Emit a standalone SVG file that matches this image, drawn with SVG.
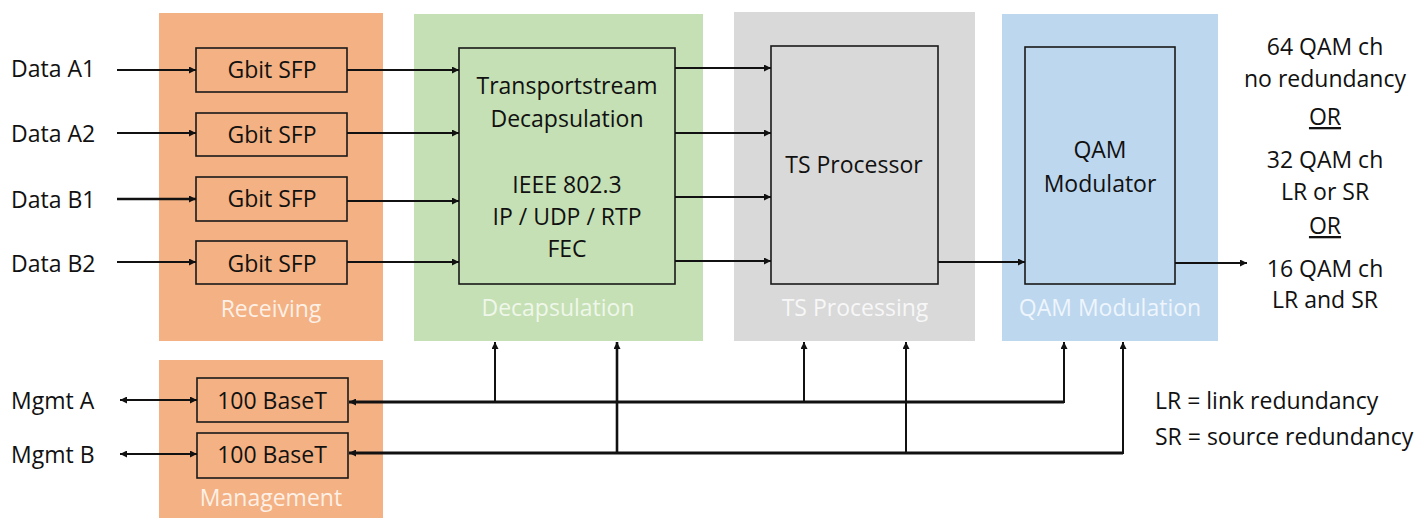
<svg xmlns="http://www.w3.org/2000/svg" width="1420" height="518" viewBox="0 0 1420 518">
<defs>
<marker id="ah" viewBox="0 0 10 10" refX="10" refY="5" markerWidth="9" markerHeight="7" markerUnits="userSpaceOnUse" orient="auto-start-reverse">
<path d="M0,0 L10,5 L0,10 z" fill="#111"/>
</marker>
<style>
text{font-family:"Open Sans","Noto Sans","Liberation Sans",sans-serif;font-size:23px;fill:#111;text-anchor:middle}
.lbl{text-anchor:start}
.box{stroke:#1a1a1a;stroke-width:1.6}
.plbl{font-size:23px}
.c{fill:none;stroke:#111;stroke-width:2}
.bus{fill:none;stroke:#111;stroke-width:3}
</style>
</defs>
<rect width="1420" height="518" fill="#fff"/>

<g id="receiving">
<rect x="159" y="13" width="224" height="328" fill="#f4b183"/>
<text x="271" y="317" class="plbl" style="fill:#fdf0e6">Receiving</text>
</g>
<g id="management">
<rect x="159" y="360" width="224" height="158" fill="#f4b183"/>
<text x="271" y="506" class="plbl" style="fill:#fdf0e6">Management</text>
</g>
<g id="decapsulation">
<rect x="414" y="14" width="289" height="327" fill="#c5e0b4"/>
<text x="558" y="316" class="plbl" style="fill:#eff7ea">Decapsulation</text>
</g>
<g id="ts-processing">
<rect x="734" y="12" width="241" height="329" fill="#d9d9d9"/>
<text x="855" y="316" class="plbl" style="fill:#f7f7f7">TS Processing</text>
</g>
<g id="qam-modulation">
<rect x="1002" y="14" width="216" height="327" fill="#bdd7ee"/>
<text x="1110" y="316" class="plbl" style="fill:#eef5fc">QAM Modulation</text>
</g>

<g id="sfp1"><rect class="box" x="196" y="48" width="151" height="44" fill="#f4b183"/><text x="272" y="78">Gbit SFP</text></g>
<g id="sfp2"><rect class="box" x="196" y="113" width="151" height="43" fill="#f4b183"/><text x="272" y="143">Gbit SFP</text></g>
<g id="sfp3"><rect class="box" x="196" y="177" width="151" height="44" fill="#f4b183"/><text x="272" y="207">Gbit SFP</text></g>
<g id="sfp4"><rect class="box" x="196" y="241" width="151" height="43" fill="#f4b183"/><text x="272" y="272">Gbit SFP</text></g>

<g id="baset1"><rect class="box" x="197" y="378" width="151" height="44" fill="#f4b183"/><text x="272" y="409">100 BaseT</text></g>
<g id="baset2"><rect class="box" x="197" y="433" width="151" height="45" fill="#f4b183"/><text x="272" y="463">100 BaseT</text></g>

<g id="ts-decap">
<rect class="box" x="459" y="48" width="216" height="236" fill="#c5e0b4"/>
<text x="567" y="94">Transportstream</text>
<text x="567" y="127">Decapsulation</text>
<text x="567" y="193">IEEE 802.3</text>
<text x="567" y="225">IP / UDP / RTP</text>
<text x="567" y="257">FEC</text>
</g>
<g id="ts-processor">
<rect class="box" x="771" y="46" width="167" height="238" fill="#d9d9d9"/>
<text x="854" y="173">TS Processor</text>
</g>
<g id="qam-modulator">
<rect class="box" x="1025" y="47" width="150" height="237" fill="#bdd7ee"/>
<text x="1100" y="158">QAM</text>
<text x="1100" y="192">Modulator</text>
</g>

<g id="inputs">
<text class="lbl" x="11" y="77">Data A1</text>
<text class="lbl" x="11" y="142">Data A2</text>
<text class="lbl" x="11" y="208">Data B1</text>
<text class="lbl" x="11" y="272">Data B2</text>
<text class="lbl" x="11" y="409">Mgmt A</text>
<text class="lbl" x="11" y="463">Mgmt B</text>
</g>

<g id="outputs">
<text x="1325" y="55">64 QAM ch</text>
<text x="1325" y="87">no redundancy</text>
<text x="1325" y="125" text-decoration="underline">OR</text>
<text x="1325" y="168">32 QAM ch</text>
<text x="1325" y="200">LR or SR</text>
<text x="1325" y="234" text-decoration="underline">OR</text>
<text x="1325" y="277">16 QAM ch</text>
<text x="1325" y="308">LR and SR</text>
</g>

<g id="legend">
<text class="lbl" x="1155" y="409">LR = link redundancy</text>
<text class="lbl" x="1155" y="445">SR = source redundancy</text>
</g>

<g id="connectors">
<path class="c" d="M117,70 H196" marker-end="url(#ah)"/>
<path class="c" d="M117,133 H196" marker-end="url(#ah)"/>
<path class="c" d="M117,199 H196" marker-end="url(#ah)" style="stroke-width:2.6"/>
<path class="c" d="M117,262 H196" marker-end="url(#ah)"/>

<path class="c" d="M347,70 H459" marker-end="url(#ah)"/>
<path class="c" d="M347,133 H459" marker-end="url(#ah)"/>
<path class="c" d="M347,201 H459" marker-end="url(#ah)"/>
<path class="c" d="M347,262 H459" marker-end="url(#ah)"/>

<path class="c" d="M675,68 H771" marker-end="url(#ah)"/>
<path class="c" d="M675,133 H771" marker-end="url(#ah)"/>
<path class="c" d="M675,197 H771" marker-end="url(#ah)"/>
<path class="c" d="M675,261 H771" marker-end="url(#ah)"/>

<path class="c" d="M938,262 H1025" marker-end="url(#ah)"/>
<path class="c" d="M1175,263 H1247" marker-end="url(#ah)"/>

<path class="c" d="M120,400 H197" marker-start="url(#ah)" marker-end="url(#ah)"/>
<path class="c" d="M120,454 H197" marker-start="url(#ah)" marker-end="url(#ah)"/>

<path class="bus" d="M1064,402 H349" marker-end="url(#ah)"/>
<path class="c" d="M1064,403 V342" marker-end="url(#ah)"/>
<path class="c" d="M495,402 V342" marker-end="url(#ah)"/>
<path class="c" d="M804,402 V342" marker-end="url(#ah)"/>

<path class="bus" d="M1123,453 H349" marker-end="url(#ah)"/>
<path class="c" d="M1123,454 V342" marker-end="url(#ah)"/>
<path class="c" d="M617,453 V342" marker-end="url(#ah)" style="stroke-width:2.6"/>
<path class="c" d="M906,453 V342" marker-end="url(#ah)"/>
</g>
</svg>
